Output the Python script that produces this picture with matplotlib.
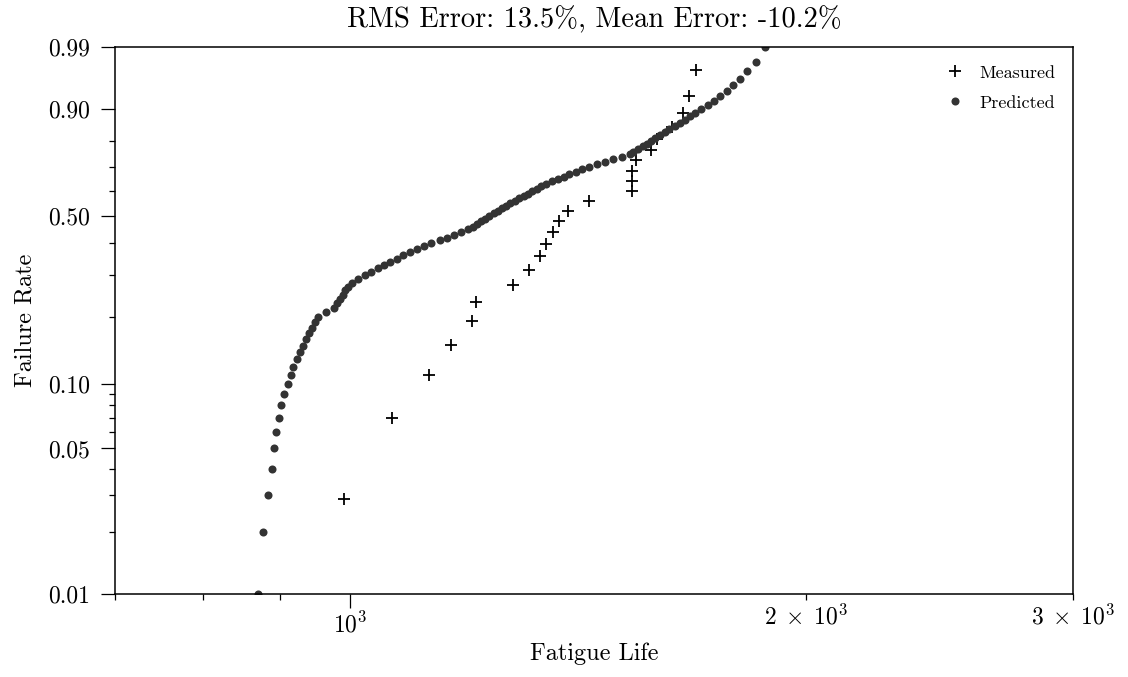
import numpy as np
import matplotlib
matplotlib.use("Agg")
import matplotlib.pyplot as plt
from matplotlib.ticker import FixedLocator, FixedFormatter, NullFormatter, FuncFormatter

# --- data ---
measured_life = [991, 1066, 1128, 1166, 1204, 1211, 1281, 1313, 1335, 1348,
                 1362, 1374, 1393, 1438, 1535, 1535, 1535, 1545, 1580, 1595,
                 1632, 1659, 1674, 1692]
measured_rate = [0.0287, 0.0697, 0.1107, 0.1516, 0.1926, 0.2336, 0.2746, 0.3156,
                 0.3566, 0.3975, 0.4385, 0.4795, 0.5205, 0.5615, 0.6025, 0.6434,
                 0.6844, 0.7254, 0.7664, 0.8074, 0.8484, 0.8893, 0.9303, 0.9713]

predicted_life = [870, 877, 883, 888, 891, 894, 898, 901, 905, 910,
                  914, 918, 923, 927, 931, 936, 940, 944, 948, 953,
                  964, 977, 981, 985, 989, 993, 998, 1003, 1013, 1023,
                  1033, 1043, 1053, 1063, 1074, 1085, 1096, 1107, 1120, 1132,
                  1146, 1159, 1171, 1184, 1197, 1205, 1213, 1221, 1228, 1236,
                  1244, 1252, 1260, 1268, 1276, 1285, 1293, 1302, 1310, 1319,
                  1328, 1338, 1348, 1360, 1371, 1384, 1396, 1410, 1424, 1439,
                  1455, 1474, 1492, 1512, 1531, 1538, 1549, 1560, 1570, 1580,
                  1590, 1602, 1613, 1625, 1638, 1651, 1663, 1676, 1690, 1705,
                  1722, 1739, 1755, 1773, 1791, 1809, 1829, 1853, 1878]
predicted_rate = [0.01, 0.02, 0.03, 0.04, 0.05, 0.06, 0.07, 0.08, 0.09, 0.10,
                  0.11, 0.12, 0.13, 0.14, 0.15, 0.16, 0.17, 0.18, 0.19, 0.20,
                  0.21, 0.22, 0.23, 0.24, 0.25, 0.26, 0.27, 0.28, 0.29, 0.30,
                  0.31, 0.32, 0.33, 0.34, 0.35, 0.36, 0.37, 0.38, 0.39, 0.40,
                  0.41, 0.42, 0.43, 0.44, 0.45, 0.46, 0.47, 0.48, 0.49, 0.50,
                  0.51, 0.52, 0.53, 0.54, 0.55, 0.56, 0.57, 0.58, 0.59, 0.60,
                  0.61, 0.62, 0.63, 0.64, 0.65, 0.66, 0.67, 0.68, 0.69, 0.70,
                  0.71, 0.72, 0.73, 0.74, 0.75, 0.76, 0.77, 0.78, 0.79, 0.80,
                  0.81, 0.82, 0.83, 0.84, 0.85, 0.86, 0.87, 0.88, 0.89, 0.90,
                  0.91, 0.92, 0.93, 0.94, 0.95, 0.96, 0.97, 0.98, 0.99]

major_rates = [0.01, 0.05, 0.10, 0.50, 0.90, 0.99]
minor_rates = [0.02, 0.03, 0.04, 0.06, 0.07, 0.08, 0.09,
               0.2, 0.3, 0.4, 0.6, 0.7, 0.8]
labelled_minor_life = [2000, 3000]

title = "RMS Error: 13.5%, Mean Error: -10.2%"

# --- fonts (Computer Modern look) ---
plt.rcParams['font.family'] = 'serif'
plt.rcParams['font.serif'] = ['cmr10', 'DejaVu Serif']
plt.rcParams['mathtext.fontset'] = 'cm'
plt.rcParams['axes.formatter.use_mathtext'] = True
plt.rcParams['axes.unicode_minus'] = False


# weibull probability scale
def weibull_fwd(p):
    p = np.clip(np.asarray(p, dtype=float), 1e-9, 1 - 1e-9)
    return np.log(-np.log(1 - p))


def weibull_inv(w):
    return 1 - np.exp(-np.exp(w))


def minor_life_label(v, pos):
    for m in labelled_minor_life:
        if abs(v - m) < 1e-6 * m:
            return r'$%d\;\times\;10^{3}$' % round(m / 1000)
    return ''


fig = plt.figure(figsize=(11.28, 6.77), dpi=100)
ax = fig.add_axes([115 / 1128, 1 - 594 / 677, 958 / 1128, 547 / 677])

ax.plot(measured_life, measured_rate, '+', color='black', ms=8, mew=1.3,
        label='Measured')
ax.plot(predicted_life, predicted_rate, 'o', color='#333333', ms=5.8, mew=0,
        label='Predicted')

ax.set_xscale('log')
ax.set_yscale('function', functions=(weibull_fwd, weibull_inv))
ax.set_xlim(700, 3000)
ax.set_ylim(0.01, 0.99)

ax.xaxis.set_minor_formatter(FuncFormatter(minor_life_label))

ax.yaxis.set_major_locator(FixedLocator(major_rates))
ax.yaxis.set_major_formatter(FixedFormatter([f"{v:.2f}" for v in major_rates]))
ax.yaxis.set_minor_locator(FixedLocator(minor_rates))
ax.yaxis.set_minor_formatter(NullFormatter())

ax.tick_params(which='major', length=10, width=0.9, labelsize=17)
ax.tick_params(which='minor', length=4.5, width=0.9, labelsize=17)
ax.tick_params(axis='y', which='both', pad=8)
ax.tick_params(axis='x', which='both', pad=3)
for s in ax.spines.values():
    s.set_linewidth(1.1)

ax.set_xlabel('Fatigue Life', fontsize=17.5, labelpad=4)
ax.set_ylabel('Failure Rate', fontsize=17.5, labelpad=8)
ax.set_title(title, fontsize=20.5, pad=14)

ax.legend(loc='upper right', frameon=False, fontsize=13, handlelength=1.0,
          handletextpad=0.8, borderaxespad=0.6, labelspacing=0.8)

fig.savefig('out.png', dpi=100)
